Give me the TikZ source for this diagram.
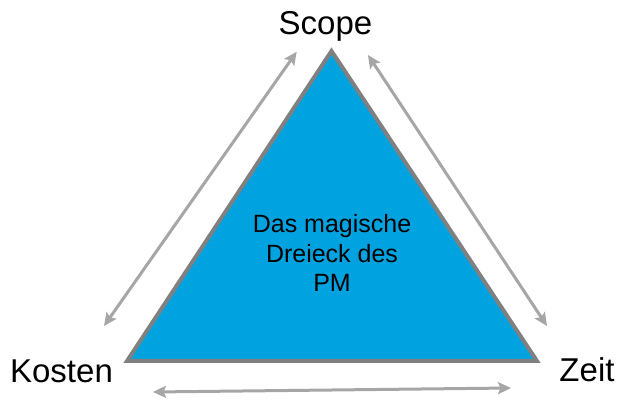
\documentclass[tikz,border=0pt]{standalone}
\usepackage{fontspec}
\setmainfont{Liberation Sans}
\usepackage{xcolor}
\definecolor{dreieckblau}{RGB}{0,163,224}
\definecolor{randgrau}{RGB}{128,128,128}
\definecolor{pfeilgrau}{RGB}{166,166,166}
\usepackage{tikz}
\usetikzlibrary{arrows.meta}
\usetikzlibrary{positioning}

\tikzset{
  ecke/.style={font=\fontsize{33}{36}\selectfont, anchor=base},
  pfeil/.style={draw=pfeilgrau, line width=3pt,
    {Stealth[length=13pt,width=12pt,inset=2.5pt]}-{Stealth[length=13pt,width=12pt,inset=2.5pt]}}
}

\begin{document}
\begin{tikzpicture}[x=1pt, y=1pt] % Magisches Dreieck

      \useasboundingbox (0, 0) rectangle (638, 418);

      \coordinate (oben) at (331.5, 367);
      \coordinate (links) at (127, 57);
      \coordinate (rechts) at (537, 57);
      \filldraw [fill=dreieckblau, draw=randgrau, line width=4pt, line join=miter]
      (oben) -- (links) -- (rechts) -- cycle;

      \node [align=center, font=\fontsize{25}{29.5}\selectfont] (mitte) at (332, 165)
      {Das magische\\Dreieck des\\PM};

      \node [ecke] (scope) at (325.5, 383) {Scope};
      \node [ecke] (kosten) at (61.5, 35) {Kosten};
      \node [ecke] (zeit) at (587, 36) {Zeit};

      \coordinate (lo) at (296.7, 366.3);
      \coordinate (lu) at (104, 92);
      \coordinate (ro) at (368, 363);
      \coordinate (ru) at (547, 92);
      \coordinate (ul) at (153, 26);
      \coordinate (ur) at (511, 30);
      \draw [pfeil] (lo) -- (lu);
      \draw [pfeil] (ro) -- (ru);
      \draw [pfeil] (ul) -- (ur);

    \end{tikzpicture}
\end{document}
